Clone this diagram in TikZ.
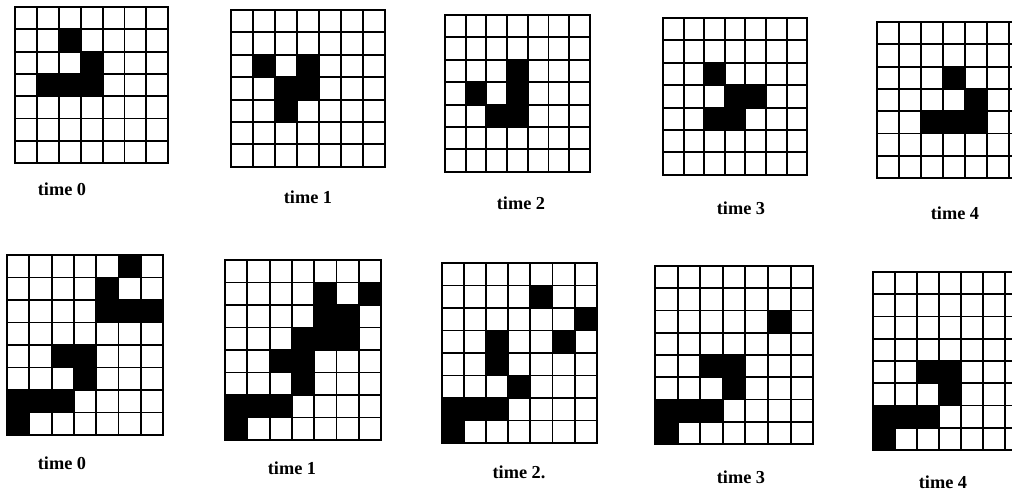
\documentclass[tikz,border=0pt]{standalone}
\usepackage{fontspec}
\setmainfont{Liberation Serif}
\usetikzlibrary{positioning}

\begin{document}
\begin{tikzpicture}[
    x=0.025cm, y=-0.025cm,
    gridline/.style={line width=1.4pt, line cap=rect},
    alive/.style={fill=black},
    label/.style={font=\bfseries\fontsize{13}{15}\selectfont, inner sep=0pt}
]
    % board: x, y, cell width, cell height, columns, rows, black cells (col/row)
    \def\board#1#2#3#4#5#6#7{
        \foreach \c/\r in {#7} {
            \fill[alive] (#1+\c*#3, #2+\r*#4) rectangle ++(#3, #4);
        }
        \foreach \i in {0,...,#5} {
            \draw[gridline] (#1+\i*#3, #2) -- ++(0, #6*#4);
        }
        \foreach \j in {0,...,#6} {
            \draw[gridline] (#1, #2+\j*#4) -- ++(#5*#3, 0);
        }
    }

    \clip (0,0) rectangle (1012,491);
    \fill[white] (0,0) rectangle (1012,491);

    % top row: glider
    \board{15}{7}{21.9}{22.3}{7}{7}{2/1, 3/2, 1/3, 2/3, 3/3}
    \board{231}{10}{22}{22.4}{7}{7}{1/2, 3/2, 2/3, 3/3, 2/4}
    \board{445}{15}{20.7}{22.4}{7}{7}{3/2, 1/3, 3/3, 2/4, 3/4}
    \board{663}{18}{20.6}{22.4}{7}{7}{2/2, 3/3, 4/3, 2/4, 3/4}
    \board{877}{22}{22}{22.3}{7}{7}{3/2, 4/3, 2/4, 3/4, 4/4}

    % bottom row: glider hits the block
    \board{7}{255}{22.3}{22.5}{7}{8}{5/0, 4/1, 4/2, 5/2, 6/2, 2/4, 3/4, 3/5, 0/6, 1/6, 2/6, 0/7}
    \board{225}{260}{22.3}{22.5}{7}{8}{4/1, 6/1, 4/2, 5/2, 3/3, 4/3, 5/3, 2/4, 3/4, 3/5, 0/6, 1/6, 2/6, 0/7}
    \board{442}{263}{22.1}{22.5}{7}{8}{4/1, 6/2, 2/3, 5/3, 2/4, 3/5, 0/6, 1/6, 2/6, 0/7}
    \board{655}{266}{22.6}{22.25}{7}{8}{5/2, 2/4, 3/4, 3/5, 0/6, 1/6, 2/6, 0/7}
    \board{873}{272}{22}{22.25}{7}{8}{2/4, 3/4, 3/5, 0/6, 1/6, 2/6, 0/7}

    % labels
    \node[label] (top0) at (62,189) {time 0};
    \node[label] (top1) at (308,197) {time 1};
    \node[label] (top2) at (521,203) {time 2};
    \node[label] (top3) at (741,208) {time 3};
    \node[label] (top4) at (955,213) {time 4};

    \node[label] (bot0) at (62,463) {time 0};
    \node[label] (bot1) at (292,468) {time 1};
    \node[label] (bot2) at (519,472) {time 2.};
    \node[label] (bot3) at (741,477) {time 3};
    \node[label] (bot4) at (943,482) {time 4};

\end{tikzpicture}
\end{document}
